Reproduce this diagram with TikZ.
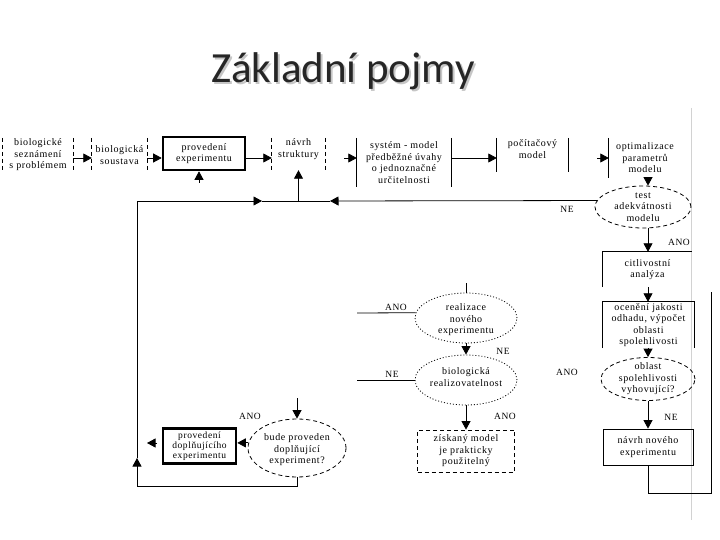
\documentclass[tikz,border=0pt]{standalone}
\usepackage{fontspec}
\setmainfont{Liberation Serif}[LetterSpace=6]
\newfontfamily\titlefont{Carlito}
\usetikzlibrary{arrows.meta,shapes.geometric}
\begin{document}
\begin{tikzpicture}[x=1pt,y=-1pt,
  txt/.style={font=\fontsize{10}{11.5}\selectfont, align=center, inner sep=0pt},
  lab/.style={font=\fontsize{9.5}{11}\selectfont, inner sep=0pt},
  ln/.style={line width=0.8pt},
  arr/.style={-{Triangle[length=8.5pt,width=9pt]}},
  dsh/.style={line width=0.8pt, dash pattern=on 4pt off 3pt},
  dot/.style={line width=0.8pt, dash pattern=on 1pt off 2pt},
  thickbox/.style={draw, line width=2.6pt},
  ell/.style={ellipse, inner sep=0pt}]
\useasboundingbox (0,0) rectangle (720,540);
% title
\node[font=\titlefont\fontsize{43}{50}\selectfont, text=gray!45, anchor=base] (tsh) at (345,85) {Základní pojmy};
\node[font=\titlefont\fontsize{43}{50}\selectfont, text=black!85, anchor=base] (title) at (343,83) {Základní pojmy};
% faint image edge
\coordinate (g1) at (691,108); \coordinate (g2) at (691,520);
\draw[gray!35, line width=0.8pt] (g1) -- (g2);
% top row
\node[txt, minimum width=70pt, minimum height=34pt] (b1) at (38,155) {biologické\\seznámení\\s problémem};
\draw[dsh] (b1.north west) -- (b1.south west) (b1.north east) -- (b1.south east);
\node[txt, minimum width=55pt, minimum height=34pt] (b2) at (119.5,155) {biologická\\soustava};
\draw[dsh] (b2.north west) -- (b2.south west) (b2.north east) -- (b2.south east);
\node[txt, thickbox, minimum width=82pt, minimum height=33pt] (b3) at (204,153.5) {provedení\\experimentu};
\node[txt, minimum width=53pt, minimum height=32pt] (b4) at (298.5,154) {návrh\\struktury\\\mbox{}};
\draw[dsh] (b4.north west) -- (b4.south west) (b4.north east) -- (b4.south east);
\node[txt, minimum width=94pt, minimum height=49pt] (b5) at (404,162.5) {systém - model\\předběžné úvahy\\o jednoznačné\\určitelnosti};
\draw[ln] (b5.north west) -- (b5.south west) (b5.north east) -- (b5.south east);
\node[txt, minimum width=71pt, minimum height=34pt] (b6) at (532.5,155) {počítačový\\model\\\mbox{}};
\draw[ln] (b6.north west) -- (b6.south west) (b6.north east) -- (b6.south east);
\node[txt, minimum width=72pt, minimum height=40pt] (b7) at (645,158) {optimalizace\\parametrů\\modelu};
\draw[ln] (b7.north west) -- (b7.south west);
% right column
\node[ell, dsh, draw, minimum width=96pt, minimum height=42pt] (e1) at (643,207) {};
\node[txt] (e1t) at (e1) {test\\adekvátnosti\\modelu};
\node[txt, minimum width=89pt, minimum height=35pt] (citl) at (647.5,269.5) {citlivostní\\analýza};
\draw[ln] (citl.south west) -- (citl.north west) -- (citl.north east);
\node[txt, minimum width=91pt, minimum height=46pt] (ocen) at (648.5,325) {ocenění jakosti\\odhadu, výpočet\\oblasti\\spolehlivosti};
\draw[ln] (ocen.south west) -- (ocen.north west) -- (ocen.north east) -- (ocen.south east);
\node[ell, dsh, draw, minimum width=94pt, minimum height=43pt] (obl) at (648,379) {};
\node[txt] (oblt) at (obl) {oblast\\spolehlivosti\\vyhovující?};
\node[txt, draw, ln, minimum width=90pt, minimum height=36pt] (navrh) at (648,447) {návrh nového\\experimentu};
% middle column
\node[ell, dot, draw, minimum width=102pt, minimum height=50pt] (real) at (466,318) {};
\node[txt] (realt) at (466,320) {realizace\\nového\\experimentu};
\node[ell, dot, draw, minimum width=102pt, minimum height=50pt] (biol) at (466,380) {};
\node[txt] (biolt) at (466,377) {biologická\\realizovatelnost};
\node[txt, draw, dsh, minimum width=97pt, minimum height=42pt] (zisk) at (466,451) {získaný model\\je prakticky\\použitelný};
% bottom left
\node[ell, dsh, draw, minimum width=98pt, minimum height=58pt] (bude) at (297,448) {};
\node[txt] (budet) at (297,450) {bude proveden\\doplňující\\experiment?};
\node[txt, thickbox, font=\fontsize{9.5}{10}\selectfont, minimum width=73pt, minimum height=35pt] (pdop) at (199.5,446) {provedení\\doplňujícího\\experimentu};
% coordinates
\coordinate (yTop) at (0,158);
\coordinate (yLoop) at (0,201);
\coordinate (cx) at (648,0);
\coordinate (s5) at (344,158);
\coordinate (s7) at (597,158);
\coordinate (s3) at (199,183);
\coordinate (jR) at (330,201);
\coordinate (jL) at (137,486);
\coordinate (jLa) at (137,458);
\coordinate (jLt) at (137,201);
\coordinate (jLm) at (262,201);
\coordinate (yB) at (0,493);
\coordinate (rB) at (711,493);
\coordinate (rT) at (711,292);
\coordinate (m0) at (466,283);
\coordinate (m1) at (357,313);
\coordinate (m2) at (357,380);
\coordinate (m3) at (297,398);
\coordinate (p1) at (157,443);
\coordinate (p2) at (147,443);
% top row connectors
\draw[ln,arr] (b1.east |- yTop) -- (b2.west |- yTop);
\draw[ln,arr] (b2.east |- yTop) -- (b3.west |- yTop);
\draw[ln,arr] (b3.east |- yTop) -- (b4.west |- yTop);
\draw[ln,arr] (s5) -- (b5.west |- s5);
\draw[ln,arr] (b5.east |- yTop) -- (b6.west |- yTop);
\draw[ln,arr] (s7) -- (b7.west |- s7);
\draw[ln,arr] (s3) -- (s3 |- b3.south);
% right column connectors
\draw[ln,arr] (b7.south -| cx) -- (e1.north -| cx);
\draw[ln,arr] (e1.south -| cx) -- (citl.north -| cx);
\draw[ln,arr] (citl.south -| cx) -- (ocen.north -| cx);
\draw[ln,arr] (ocen.south -| cx) -- (obl.north -| cx);
\draw[ln,arr] (obl.south -| cx) -- (navrh.north -| cx);
\draw[ln] (navrh.south -| cx) -- (cx |- yB) -- (rB) -- (rT);
% feedback loop
\draw[ln,arr] (e1.172) -- (jR);
\draw[ln,arr] (jR) -- (b4.south |- yLoop) -- (b4.south);
\draw[ln,arr] (bude.south) -- (bude.south |- jL) -- (jL) -- (jLa);
\draw[ln,arr] (jLa) -- (jLt) -- (jLm);
\draw[ln] (jLm) -- (b4.south |- yLoop);
% middle connectors
\draw[ln] (m0) -- (real.north);
\draw[ln] (m1) -- (real.174);
\draw[ln] (m2) -- (biol.west);
\draw[ln,arr] (real.south) -- (biol.north);
\draw[ln,arr] (biol.south) -- (zisk.north);
\draw[ln,arr] (m3) -- (bude.north);
\draw[ln,arr] (bude.174) -- (bude.174 -| pdop.east);
\draw[ln,arr] (p1) -- (p2);
% labels
\node[lab] (l1) at (567,209) {NE};
\node[lab] (l2) at (679,242) {ANO};
\node[lab] (l3) at (396,307) {ANO};
\node[lab] (l4) at (503,351) {NE};
\node[lab] (l5) at (392,374) {NE};
\node[lab] (l6) at (505,416) {ANO};
\node[lab] (l7) at (567,372) {ANO};
\node[lab] (l8) at (671,417) {NE};
\node[lab] (l9) at (250,416) {ANO};
\end{tikzpicture}
\end{document}
